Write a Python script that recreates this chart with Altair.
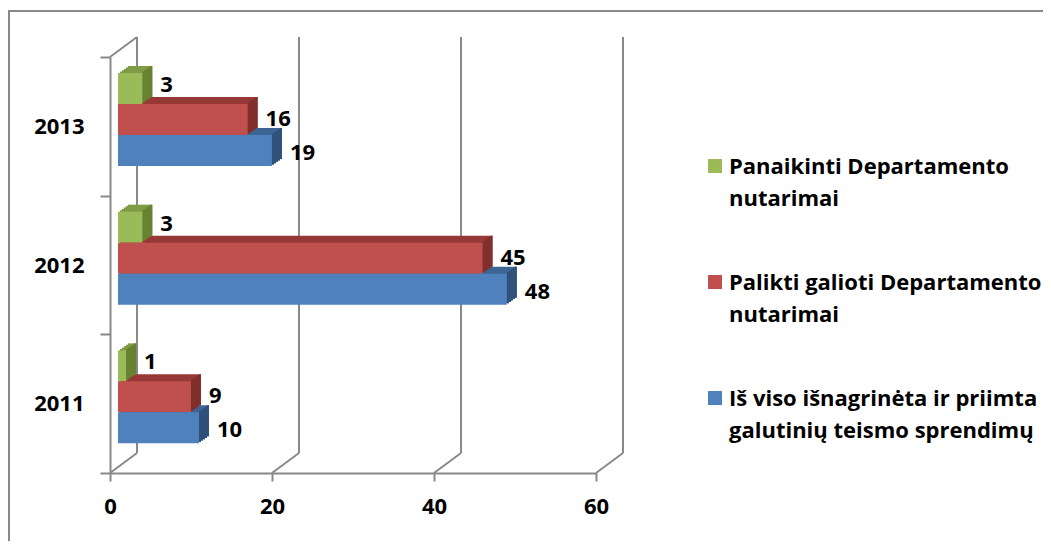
import altair as alt
import pandas as pd

# ---------------- data ----------------
years = ["2013", "2012", "2011"]
series = [
    "Panaikinti Departamento nutarimai",
    "Palikti galioti Departamento nutarimai",
    "Iš viso išnagrinėta ir priimta galutinių teismo sprendimų",
]
panaikinti = [3, 3, 1]
palikti = [16, 45, 9]
is_viso = [19, 48, 10]
x_ticks = [0, 20, 40, 60]
legend_lines = [
    ["Panaikinti Departamento", "nutarimai"],
    ["Palikti galioti Departamento", "nutarimai"],
    ["Iš viso išnagrinėta ir priimta", "galutinių teismo sprendimų"],
]

rows = []
for i, yr in enumerate(years):
    for s, vals in zip(series, [panaikinti, palikti, is_viso]):
        rows.append({"year": yr, "series": s, "value": vals[i], "zero": 0})
df = pd.DataFrame(rows)
ticks_df = pd.DataFrame({"v": x_ticks})
origin_df = pd.DataFrame({"v": [0]})
legend_df = pd.DataFrame({"series": series, "lines": legend_lines})

# ---------------- style ----------------
FONT = "Open Sans"
FS = 22
GRID = "#898989"
front_colors = ["#9BBB59", "#C0504D", "#4F81BD"]
top_colors = ["#7F9C45", "#963836", "#3D6595"]
side_colors = ["#66802F", "#7E2E2C", "#2F5079"]

W, H = 486, 416
BAR_X = 8          # bar front face shift from front plane
DX, DY = 10, 7     # bar depth
N = 5              # depth steps
R0, R1 = 16, 109   # bar block inside each band
WALL_DX, WALL_DY = 27, 20

xs = alt.Scale(domain=[0, 60], nice=False, zero=True)
ys = alt.Scale(paddingInner=0, paddingOuter=0)

x_axis = alt.Axis(
    values=x_ticks, grid=False, domainColor=GRID, domainWidth=2,
    tickColor=GRID, tickWidth=2, tickSize=8, labelPadding=15,
    labelFont=FONT, labelFontSize=FS, labelFontWeight="bold",
    labelColor="#000000", labelFlush=False, title=None,
)
y_axis = alt.Axis(
    tickBand="extent", domainColor=GRID, domainWidth=2,
    tickColor=GRID, tickWidth=2, tickSize=10, labelPadding=16,
    labelFont=FONT, labelFontSize=FS, labelFontWeight="bold",
    labelColor="#000000", labelAngle=0, title=None, grid=False,
)


def x_enc(field="value:Q"):
    return alt.X(field, scale=xs, axis=x_axis)


def y_enc():
    return alt.Y("year:N", sort=years, scale=ys, axis=y_axis)


def yoff(r0, r1):
    return alt.YOffset(
        "series:N", sort=series,
        scale=alt.Scale(domain=series, range=[r0, r1], paddingInner=0, paddingOuter=0),
    )


def col(rng):
    return alt.Color("series:N", scale=alt.Scale(domain=series, range=rng), legend=None)


layers = []

# back wall gridlines
layers.append(
    alt.Chart(ticks_df).mark_rule(color=GRID, strokeWidth=2, xOffset=WALL_DX).encode(
        x=x_enc("v:Q"), y=alt.value(-WALL_DY), y2=alt.value(H - WALL_DY)
    )
)
# floor diagonals
layers.append(
    alt.Chart(ticks_df).mark_rule(color=GRID, strokeWidth=2, x2Offset=WALL_DX).encode(
        x=x_enc("v:Q"), x2="v:Q", y=alt.value(H), y2=alt.value(H - WALL_DY)
    )
)
# left wall top diagonal
layers.append(
    alt.Chart(origin_df).mark_rule(color=GRID, strokeWidth=2, x2Offset=WALL_DX).encode(
        x=x_enc("v:Q"), x2="v:Q", y=alt.value(0), y2=alt.value(-WALL_DY)
    )
)

# top faces (stacked offset rects)
for k in range(N, 0, -1):
    off = BAR_X + DX * k / N
    sh = DY * k / N
    layers.append(
        alt.Chart(df).mark_bar(xOffset=off, x2Offset=off).encode(
            x=x_enc(), x2="zero:Q", y=y_enc(), yOffset=yoff(R0 - sh, R1 - sh),
            color=col(top_colors),
        )
    )
# side faces
for k in range(N, 0, -1):
    o1 = BAR_X + DX * (k - 1) / N
    o2 = BAR_X + DX * k / N
    sh = DY * k / N
    layers.append(
        alt.Chart(df).mark_bar(xOffset=o1, x2Offset=o2).encode(
            x=x_enc(), x2="value:Q", y=y_enc(), yOffset=yoff(R0 - sh, R1 - sh),
            color=col(side_colors),
        )
    )

# front faces
layers.append(
    alt.Chart(df).mark_bar(xOffset=BAR_X, x2Offset=BAR_X).encode(
        x=x_enc(), x2="zero:Q", y=y_enc(), yOffset=yoff(R0, R1),
        color=col(front_colors),
    )
)

# value labels
layers.append(
    alt.Chart(df).mark_text(
        align="left", baseline="middle", dx=26, font=FONT, fontSize=FS,
        fontWeight="bold", color="#000000",
    ).encode(
        x=x_enc(), y=y_enc(), yOffset=yoff(28, 96), text="value:Q",
    )
)

# legend (manual, multi-line), positioned by its own offset scale
leg_off = alt.YOffset("series:N", sort=series,
                      scale=alt.Scale(domain=series, range=[109, 341], padding=0))
layers.append(
    alt.Chart(legend_df).mark_square(size=196, opacity=1).encode(
        x=alt.value(605), y=alt.value(0), yOffset=leg_off, color=col(front_colors),
    )
)
layers.append(
    alt.Chart(legend_df).mark_text(
        align="left", baseline="alphabetic", dy=8, lineHeight=32, font=FONT,
        fontSize=FS, fontWeight="bold", color="#000000",
    ).encode(x=alt.value(619), y=alt.value(0), yOffset=leg_off, text="lines")
)

# outer frame
layers.append(
    alt.Chart(origin_df).mark_rule(color=GRID, strokeWidth=2).encode(
        x=alt.value(-101), y=alt.value(-46), y2=alt.value(H + 90)
    )
)
layers.append(
    alt.Chart(origin_df).mark_rule(color=GRID, strokeWidth=2).encode(
        x=alt.value(-102), x2=alt.value(W + 460), y=alt.value(-46)
    )
)

chart = alt.layer(*layers).resolve_scale(
    yOffset="independent", color="independent"
).properties(
    width=W, height=H,
    autosize=alt.AutoSizeParams(type="none"),
    padding={"left": 102, "top": 49, "right": 447, "bottom": 68},
    background="white",
).configure_view(stroke=None)

chart.save("out.html", embed_options={"renderer": "svg", "actions": False})
